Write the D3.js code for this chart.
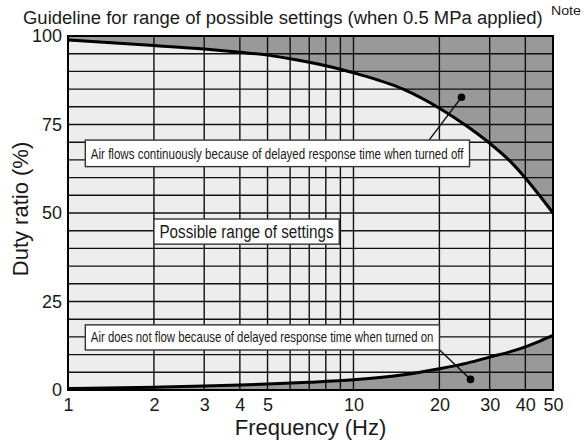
<!DOCTYPE html>
<html>
<head>
<meta charset="utf-8">
<script src="https://cdn.jsdelivr.net/npm/d3@7"></script>
<style>
  html, body { margin: 0; padding: 0; background: #ffffff; }
  svg { display: block; }
  text { font-family: "Liberation Sans", Arial, Helvetica, sans-serif; fill: #1a1a1a; }
</style>
</head>
<body>
<svg id="chart" width="584" height="446"></svg>
<script>
// ---- data ----
const upperFreq = [1, 2, 3, 4, 5, 6, 7, 8, 9, 10, 15, 20, 25, 30, 35, 40, 45, 50];
const upperDuty = [98.9, 97.3, 96.3, 95.4, 94.6, 93.6, 92.6, 91.6, 90.6, 89.6, 84.9, 79.6, 74.5, 69.7, 65.0, 59.9, 54.8, 50.0];
const lowerFreq = [1, 2, 3, 4, 5, 7, 10, 15, 20, 25, 30, 35, 40, 45, 50];
const lowerDuty = [0.4, 0.8, 1.1, 1.4, 1.7, 2.2, 2.9, 4.3, 6.0, 7.6, 9.3, 10.7, 12.2, 13.8, 15.4];
const xGrid = [1, 2, 3, 4, 5, 6, 7, 8, 9, 10, 20, 30, 40, 50];
const yGrid = [0, 5, 10, 15, 20, 25, 30, 35, 40, 45, 50, 55, 60, 65, 70, 75, 80, 85, 90, 95, 100];
const xTickLabels = [1, 2, 3, 4, 5, 10, 20, 30, 40, 50];
const yTickLabels = [0, 25, 50, 75, 100];
const titleText = "Guideline for range of possible settings (when 0.5 MPa applied)";
const noteText = "Note";
const xLabel = "Frequency (Hz)";
const yLabel = "Duty ratio (%)";
// annotation texts with their anchor points in data units (frequency, duty)
const annoTexts = [
  "Air flows continuously because of delayed response time when turned off",
  "Possible range of settings",
  "Air does not flow because of delayed response time when turned on"
];
const annoBoxF0 = [1.15, 2.0, 1.15];
const annoBoxF1 = [25.5, 8.92, 20.0];
const annoBoxV0 = [70.6, 48.3, 18.4];
const annoBoxV1 = [63.1, 41.2, 11.3];
const leaderFrom = [[18.4, 70.6], null, [20.0, 11.4]];
const leaderDot = [[23.9, 82.7], null, [25.7, 3.0]];

// ---- layout ----
const svg = d3.select("#chart");
const x = d3.scaleLog().domain([1, 50]).range([68, 553]);
const y = d3.scaleLinear().domain([0, 100]).range([390, 36]);

const upper = upperFreq.map((f, i) => [f, upperDuty[i]]);
const lower = lowerFreq.map((f, i) => [f, lowerDuty[i]]);

// fit a text element horizontally into a given width by scaling it
function fitText(sel, x0, y0, width) {
  const w = sel.node().getComputedTextLength();
  const s = width / w;
  sel.attr("x", 0).attr("y", 0)
     .attr("transform", `translate(${x0},${y0}) scale(${s},1)`);
}

// background
svg.append("rect")
  .attr("x", x(1)).attr("y", y(100))
  .attr("width", x(50) - x(1)).attr("height", y(0) - y(100))
  .attr("fill", "#ededed");

// dark regions
const areaTop = d3.area().x(d => x(d[0])).y0(y(100)).y1(d => y(d[1])).curve(d3.curveMonotoneX);
const areaBot = d3.area().x(d => x(d[0])).y0(y(0)).y1(d => y(d[1])).curve(d3.curveMonotoneX);
svg.append("path").datum(upper).attr("d", areaTop).attr("fill", "#999999");
svg.append("path").datum(lower).attr("d", areaBot).attr("fill", "#999999");

// grid
const g = svg.append("g").attr("stroke", "#111").attr("stroke-width", 1.4);
g.selectAll("line.v").data(xGrid).join("line")
  .attr("x1", d => x(d)).attr("x2", d => x(d))
  .attr("y1", y(0)).attr("y2", y(100));
g.selectAll("line.h").data(yGrid).join("line")
  .attr("x1", x(1)).attr("x2", x(50))
  .attr("y1", d => y(d)).attr("y2", d => y(d));

// curves
const line = d3.line().x(d => x(d[0])).y(d => y(d[1])).curve(d3.curveMonotoneX);
svg.append("path").datum(upper).attr("d", line).attr("fill", "none").attr("stroke", "#000").attr("stroke-width", 3);
svg.append("path").datum(lower).attr("d", line).attr("fill", "none").attr("stroke", "#000").attr("stroke-width", 3);

// border
svg.append("rect")
  .attr("x", x(1)).attr("y", y(100))
  .attr("width", x(50) - x(1)).attr("height", y(0) - y(100))
  .attr("fill", "none").attr("stroke", "#000").attr("stroke-width", 2);

// annotations
const annoFont = [15, 18, 14];
annoTexts.forEach((t, i) => {
  const bx = x(annoBoxF0[i]), bx2 = x(annoBoxF1[i]);
  const by = y(annoBoxV0[i]), by2 = y(annoBoxV1[i]);
  if (leaderFrom[i]) {
    svg.append("line")
      .attr("x1", x(leaderFrom[i][0])).attr("y1", y(leaderFrom[i][1]))
      .attr("x2", x(leaderDot[i][0])).attr("y2", y(leaderDot[i][1]))
      .attr("stroke", "#111").attr("stroke-width", 1.4);
    svg.append("circle")
      .attr("cx", x(leaderDot[i][0])).attr("cy", y(leaderDot[i][1]))
      .attr("r", 3.8).attr("fill", "#000");
  }
  svg.append("rect")
    .attr("x", bx).attr("y", by).attr("width", bx2 - bx).attr("height", by2 - by)
    .attr("fill", "#fff").attr("stroke", "#333").attr("stroke-width", 1.4);
  const pad = 5.5;
  const tx = svg.append("text").attr("font-size", annoFont[i]).text(t);
  fitText(tx, bx + pad, (by + by2) / 2 + annoFont[i] * 0.36, (bx2 - bx) - pad * 2);
});

// axes
const xAxis = svg.append("g").attr("transform", `translate(0,${y(0)})`)
  .call(d3.axisBottom(x).tickValues(xTickLabels).tickFormat(d3.format("d")).tickSize(0).tickPadding(8));
xAxis.select(".domain").remove();
xAxis.selectAll("text").attr("font-size", 18).attr("fill", "#1a1a1a")
  .style("font-family", '"Liberation Sans", Arial, sans-serif');

const yAxis = svg.append("g").attr("transform", `translate(${x(1)},0)`)
  .call(d3.axisLeft(y).tickValues(yTickLabels).tickSize(0).tickPadding(6));
yAxis.select(".domain").remove();
yAxis.selectAll("text").attr("font-size", 18).attr("fill", "#1a1a1a")
  .style("font-family", '"Liberation Sans", Arial, sans-serif');

// titles
const title = svg.append("text").attr("font-size", 19).text(titleText);
fitText(title, 23, 24, 520);
const note = svg.append("text").attr("font-size", 12).text(noteText);
fitText(note, 551, 15, 30);
svg.append("text").attr("x", (x(1) + x(50)) / 2).attr("y", 435)
  .attr("text-anchor", "middle").attr("font-size", 22)
  .text(xLabel);
svg.append("text")
  .attr("transform", `translate(28,${(y(0) + y(100)) / 2 - 4}) rotate(-90)`)
  .attr("text-anchor", "middle").attr("font-size", 22)
  .text(yLabel);
</script>
</body>
</html>
